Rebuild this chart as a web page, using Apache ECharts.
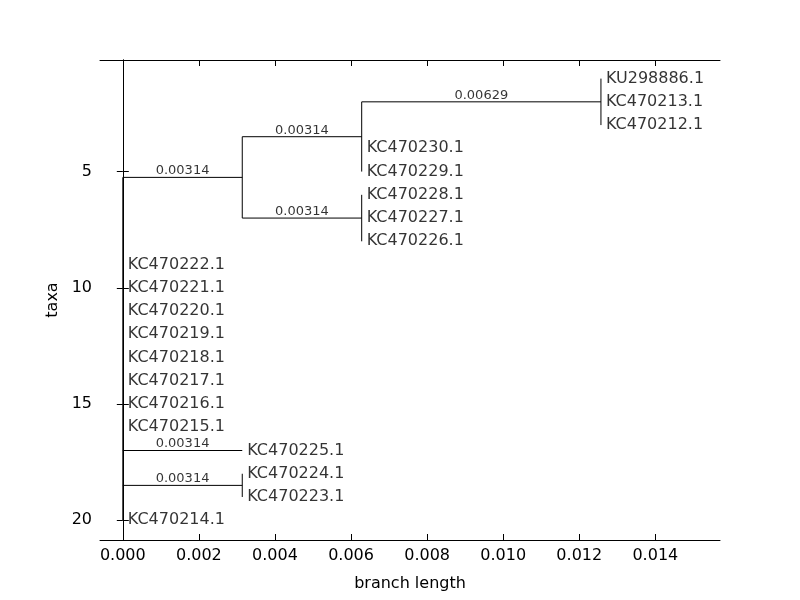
<!DOCTYPE html>
<html>
<head>
<meta charset="utf-8">
<script src="https://cdn.jsdelivr.net/npm/echarts@6/dist/echarts.min.js"></script>
<style>html,body{margin:0;padding:0;background:#fff}#main{width:800px;height:600px}</style>
</head>
<body>
<div id="main"></div>
<script>
// tips, top to bottom (y = 1..20)
const taxa = ['KU298886.1', 'KC470213.1', 'KC470212.1', 'KC470230.1', 'KC470229.1',
  'KC470228.1', 'KC470227.1', 'KC470226.1', 'KC470222.1', 'KC470221.1',
  'KC470220.1', 'KC470219.1', 'KC470218.1', 'KC470217.1', 'KC470216.1',
  'KC470215.1', 'KC470225.1', 'KC470224.1', 'KC470223.1', 'KC470214.1'];
const tipX = [0.01257, 0.01257, 0.01257, 0.00628, 0.00628,
  0.00628, 0.00628, 0.00628, 0, 0, 0, 0, 0, 0, 0, 0,
  0.00314, 0.00314, 0.00314, 0];

// horizontal branches
const hStartX = [0, 0.00314, 0.00628, 0.00314, 0, 0];
const hEndX = [0.00314, 0.00628, 0.01257, 0.00628, 0.00314, 0.00314];
const hY = [5.25, 3.5, 2, 7, 17, 18.5];
const hLabel = ['0.00314', '0.00314', '0.00629', '0.00314', '0.00314', '0.00314'];

// vertical connectors
const vX = [0, 0.00314, 0.00628, 0.01257, 0.00628, 0.00314];
const vY1 = [5.25, 3.5, 2, 1, 6, 18];
const vY2 = [20, 7, 5, 3, 8, 19];

const xTicks = [0, 0.002, 0.004, 0.006, 0.008, 0.010, 0.012, 0.014];
const yTicks = [5, 10, 15, 20];

const chart = echarts.init(document.getElementById('main'));
const lineStyle = { color: '#000', width: 1 };
const series = [];
hStartX.forEach((x, i) => {
  series.push({ type: 'line', data: [[x, hY[i]], [hEndX[i], hY[i]]], symbol: 'none', lineStyle, silent: true });
});
vX.forEach((x, i) => {
  series.push({ type: 'line', data: [[x, vY1[i]], [x, vY2[i]]], symbol: 'none', lineStyle, silent: true });
});
series.push({
  type: 'scatter', symbolSize: 0,
  data: taxa.map((t, i) => ({ value: [tipX[i], i + 1], name: t })),
  label: { show: true, position: 'right', distance: 5, formatter: p => p.name, color: '#000', fontSize: 16, fontFamily: 'DejaVu Sans' }
});
series.push({
  type: 'scatter', symbolSize: 0,
  data: hLabel.map((t, i) => ({ value: [(hStartX[i] + hEndX[i]) / 2, hY[i]], name: t })),
  label: { show: true, position: 'top', distance: 0, formatter: p => p.name, color: '#000', fontSize: 13, fontFamily: 'DejaVu Sans' }
});

const axFont = { color: '#000', fontSize: 16, fontFamily: 'DejaVu Sans' };
chart.setOption({
  animation: false,
  grid: { left: 100, right: 80, top: 60, bottom: 60 },
  xAxis: [{
    type: 'value', min: -0.0006, max: 0.0157,
    name: 'branch length', nameLocation: 'middle', nameGap: 36, nameTextStyle: axFont,
    axisLine: { lineStyle: { color: '#000' } },
    axisTick: { inside: true, length: 6, customValues: xTicks, lineStyle: { color: '#000' } },
    axisLabel: { customValues: xTicks, formatter: v => v.toFixed(3), ...axFont, margin: 8 },
    splitLine: { show: false }
  }, {
    type: 'value', position: 'top', min: -0.0006, max: 0.0157,
    axisLine: { lineStyle: { color: '#000' } },
    axisTick: { inside: true, length: 6, customValues: xTicks, lineStyle: { color: '#000' } },
    axisLabel: { show: false }, splitLine: { show: false }
  }],
  yAxis: [{
    type: 'value', inverse: true, min: 0.2, max: 20.85,
    name: 'taxa', nameLocation: 'middle', nameGap: 38, nameTextStyle: axFont,
    axisLine: { lineStyle: { color: '#000' } },
    axisTick: { inside: true, length: 6, customValues: yTicks, lineStyle: { color: '#000' } },
    axisLabel: { customValues: yTicks, ...axFont, margin: 8 },
    splitLine: { show: false }
  }, {
    type: 'value', inverse: true, position: 'right', min: 0.2, max: 20.85,
    axisLine: { lineStyle: { color: '#000' } },
    axisTick: { inside: true, length: 6, customValues: yTicks, lineStyle: { color: '#000' } },
    axisLabel: { show: false }, splitLine: { show: false }
  }],
  series
});
</script>
</body>
</html>
